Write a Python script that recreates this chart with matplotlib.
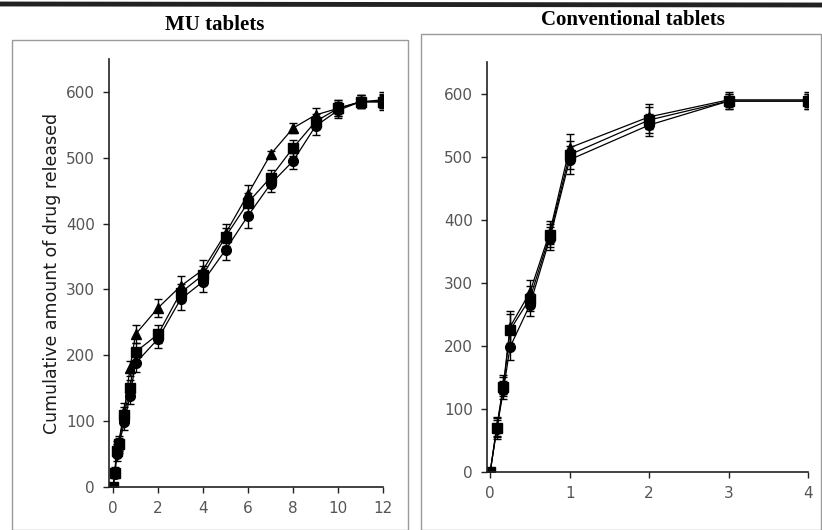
import matplotlib
matplotlib.use("Agg")
import matplotlib.pyplot as plt
from matplotlib.patches import Rectangle
from matplotlib.lines import Line2D

# ---- data ----
mu_time = [0, 0.083, 0.167, 0.25, 0.5, 0.75, 1, 2, 3, 4, 5, 6, 7, 8, 9, 10, 11, 12]
mu_tri = [0, 25, 60, 68, 115, 180, 232, 272, 305, 330, 385, 445, 505, 545, 565, 575, 585, 585]
mu_sq = [0, 22, 55, 65, 110, 150, 205, 232, 295, 322, 380, 432, 470, 515, 555, 575, 585, 585]
mu_ci = [0, 20, 50, 62, 98, 138, 188, 225, 285, 312, 360, 412, 460, 495, 548, 572, 585, 588]
mu_tri_err = [2, 6, 10, 10, 12, 12, 14, 14, 16, 14, 14, 14, 6, 8, 10, 12, 10, 10]
mu_sq_err = [2, 6, 10, 10, 12, 12, 14, 14, 14, 14, 14, 14, 12, 12, 12, 12, 10, 12]
mu_ci_err = [2, 6, 10, 10, 12, 12, 14, 14, 16, 16, 16, 18, 12, 12, 14, 12, 10, 12]

cv_time = [0, 0.083, 0.167, 0.25, 0.5, 0.75, 1, 2, 3, 4]
cv_tri = [0, 72, 138, 230, 285, 380, 514, 563, 590, 590]
cv_sq = [0, 70, 135, 225, 275, 375, 503, 558, 588, 588]
cv_ci = [0, 68, 130, 198, 265, 370, 495, 550, 588, 588]
cv_tri_err = [2, 15, 15, 25, 20, 18, 22, 20, 12, 12]
cv_sq_err = [2, 15, 15, 25, 20, 18, 22, 20, 12, 12]
cv_ci_err = [2, 15, 15, 20, 18, 18, 22, 18, 12, 12]

titles = ["MU tablets", "Conventional tablets"]
ylabel = "Cumulative amount of drug released"
mu_xticks = [0, 2, 4, 6, 8, 10, 12]
cv_xticks = [0, 1, 2, 3, 4]
yticks = [0, 100, 200, 300, 400, 500, 600]

plt.rcParams['font.family'] = ['DejaVu Sans']

W, H = 822, 530
fig = plt.figure(figsize=(W / 100, H / 100), dpi=100)
fig.patch.set_facecolor('white')

def fx(px):
    return px / W

def fy(py):
    return 1 - py / H

# scan-like top border and panel frames
fig.add_artist(Line2D([0, 1], [fy(4), fy(5)], color='#222222', lw=3.5, transform=fig.transFigure))
fig.add_artist(Rectangle((fx(12), fy(530)), fx(396), fy(40) - fy(530), transform=fig.transFigure,
                         fill=False, edgecolor='#9a9a9a', lw=1.0))
fig.add_artist(Rectangle((fx(421), fy(530)), fx(400), fy(34) - fy(530), transform=fig.transFigure,
                         fill=False, edgecolor='#9a9a9a', lw=1.0))

ax1 = fig.add_axes([fx(109), fy(487), fx(383 - 109), fy(59) - fy(487)])
ax2 = fig.add_axes([fx(487), fy(472), fx(808 - 487), fy(62) - fy(472)])

def draw(ax, t, series, errs):
    markers = ['^', 's', 'o']
    for y, e, m in zip(series, errs, markers):
        ax.errorbar(t, y, yerr=e, color='black', marker=m, markersize=7, lw=0.9,
                    elinewidth=1.0, capsize=3, capthick=1.0, mfc='black', mec='black')

draw(ax1, mu_time, [mu_tri, mu_sq, mu_ci], [mu_tri_err, mu_sq_err, mu_ci_err])
draw(ax2, cv_time, [cv_tri, cv_sq, cv_ci], [cv_tri_err, cv_sq_err, cv_ci_err])

ax1.set_xlim(-0.18, 12)
ax1.set_xticks(mu_xticks)
ax2.set_xlim(-0.04, 4)
ax2.set_xticks(cv_xticks)

for ax in (ax1, ax2):
    ax.set_ylim(0, 650)
    ax.set_yticks(yticks)
    for s in ('top', 'right'):
        ax.spines[s].set_visible(False)
    for s in ('left', 'bottom'):
        ax.spines[s].set_linewidth(1.2)
        ax.spines[s].set_color('#222222')
    ax.tick_params(axis='both', direction='out', length=4, width=1, labelsize=11,
                   labelcolor='#555555', color='#222222', pad=6)
    ax.set_facecolor('none')

ax1.set_ylabel(ylabel, fontsize=12.5, color='#1a1a1a', labelpad=4)

fig.text(fx(215), fy(25), titles[0], ha='center', va='center', fontsize=15,
         fontweight='bold', family=['Liberation Serif', 'DejaVu Serif'])
fig.text(fx(633), fy(20), titles[1], ha='center', va='center', fontsize=15,
         fontweight='bold', family=['Liberation Serif', 'DejaVu Serif'])

fig.savefig('out.png', dpi=100)
